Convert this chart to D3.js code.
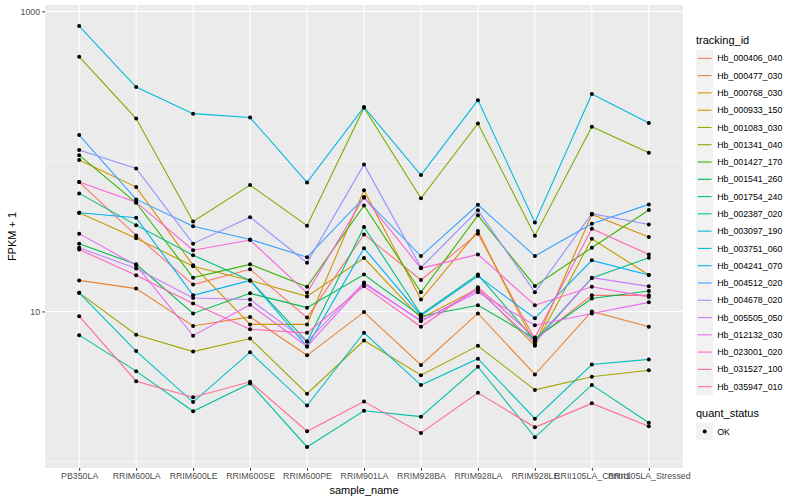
<!DOCTYPE html>
<html>
<head>
<meta charset="utf-8">
<script src="https://cdn.jsdelivr.net/npm/d3@7"></script>
<style>
  body { margin: 0; background: #fff; }
  text { font-family: "Liberation Sans", Arial, sans-serif; }
</style>
</head>
<body>
<script>
// sample names along x
const samples = ['PB350LA', 'RRIM600LA', 'RRIM600LE', 'RRIM600SE', 'RRIM600PE', 'RRIM901LA',
  'RRIM928BA', 'RRIM928LA', 'RRIM928LE', 'RRII105LA_Control', 'RRII105LA_Stressed'];

const trackingIds = ['Hb_000406_040', 'Hb_000477_030', 'Hb_000768_030', 'Hb_000933_150', 'Hb_001083_030',
  'Hb_001341_040', 'Hb_001427_170', 'Hb_001541_260', 'Hb_001754_240', 'Hb_002387_020',
  'Hb_003097_190', 'Hb_003751_060', 'Hb_004241_070', 'Hb_004512_020', 'Hb_004678_020',
  'Hb_005505_050', 'Hb_012132_030', 'Hb_023001_020', 'Hb_031527_100', 'Hb_035947_010'];

// FPKM + 1 per gene, one value per sample
const hb000406 = [72.8, 32.1, 15.1, 19.1, 9.1, 32.6, 16.2, 33.0, 6.5, 12.8, 12.8];
const hb000477 = [16.1, 14.2, 8.0, 9.2, 5.1, 9.9, 4.4, 9.7, 3.8, 10.0, 7.9];
const hb000768 = [102, 67.4, 20.3, 8.2, 8.2, 64.1, 12.0, 34.3, 6.0, 44.3, 31.3];
const hb000933 = [45.5, 30.7, 20.0, 16.1, 12.6, 22.7, 9.0, 14.2, 5.9, 30.5, 17.5];
const hb001083 = [13.3, 7.0, 5.4, 6.6, 2.83, 6.4, 3.76, 5.9, 3.0, 3.67, 4.06];
const hb001341 = [499, 193, 39.8, 69.5, 37.3, 228, 56.7, 179, 32.0, 170, 114];
const hb001427 = [110, 53.0, 16.8, 20.6, 14.6, 50.9, 13.4, 43.7, 14.8, 26.6, 47.4];
const hb001541 = [28.3, 20.6, 9.7, 13.2, 10.6, 17.6, 9.3, 11.0, 6.6, 12.2, 13.7];
const hb001754 = [61.2, 37.6, 23.7, 16.1, 6.3, 36.5, 9.55, 17.6, 6.4, 16.7, 22.8];
const hb002387 = [6.95, 4.0, 2.16, 3.31, 1.25, 2.18, 1.99, 4.28, 1.45, 3.24, 1.81];
const hb003097 = [13.3, 5.44, 2.49, 5.35, 2.36, 7.21, 3.23, 4.84, 1.93, 4.43, 4.79];
const hb003751 = [798, 313, 208, 196, 72.4, 230, 81.0, 256, 39.2, 281, 180];
const hb004241 = [45.5, 42.1, 12.8, 16.1, 5.84, 26.4, 9.4, 17.2, 9.0, 21.9, 17.5];
const hb004512 = [149.7, 55.8, 37.0, 30.2, 23.0, 57.3, 23.4, 51.4, 23.4, 38.4, 51.7];
const hb004678 = [119, 89.8, 28.3, 42.5, 21.1, 95.5, 19.6, 47.2, 13.4, 44.8, 38.0];
const hb005505 = [26.6, 19.3, 12.3, 12.0, 6.3, 15.6, 8.6, 13.9, 6.2, 16.8, 14.7];
const hb012132 = [33.0, 20.3, 6.9, 11.1, 5.84, 15.3, 8.7, 13.4, 8.1, 9.7, 11.5];
const hb023001 = [72.8, 53.5, 25.6, 29.9, 13.3, 57.8, 19.4, 24.0, 11.0, 14.6, 12.5];
const hb031527 = [25.9, 17.4, 11.3, 7.6, 7.2, 14.7, 7.9, 14.5, 6.7, 35.6, 24.0];
const hb035947 = [9.3, 3.43, 2.68, 3.40, 1.59, 2.51, 1.55, 2.87, 1.69, 2.44, 1.72];

const seriesValues = [hb000406, hb000477, hb000768, hb000933, hb001083, hb001341, hb001427,
  hb001541, hb001754, hb002387, hb003097, hb003751, hb004241, hb004512, hb004678, hb005505,
  hb012132, hb023001, hb031527, hb035947];

const yTicks = [10, 1000];
const yMinor = [1, 100];

// ggplot default hue palette for 20 levels
const palette = ['#F8766D', '#EA8331', '#D89000', '#C09B00', '#A3A500', '#7CAE00', '#39B600',
  '#00BB4E', '#00BF7D', '#00C1A3', '#00BFC4', '#00BAE0', '#00B0F6', '#35A2FF', '#9590FF',
  '#C77CFF', '#E76BF3', '#FA62DB', '#FF62BC', '#FF6C91'];

const panel = { left: 45, right: 683, top: 5, bottom: 468 };

const svg = d3.select('body').append('svg')
  .attr('width', 800)
  .attr('height', 500);

const series = trackingIds.map((id, i) => ({
  id,
  color: palette[i],
  points: samples.map((s, j) => ({ sample: s, value: seriesValues[i][j] })),
}));

const allValues = seriesValues.flat();
const lo = Math.log10(d3.min(allValues));
const hi = Math.log10(d3.max(allValues));
const pad = (hi - lo) * 0.05;

const xScale = d3.scalePoint()
  .domain(samples)
  .range([panel.left, panel.right])
  .padding(0.6);

const yScale = d3.scaleLog()
  .domain([10 ** (lo - pad), 10 ** (hi + pad)])
  .range([panel.bottom, panel.top]);

// panel background
svg.append('rect')
  .attr('x', panel.left)
  .attr('y', panel.top)
  .attr('width', panel.right - panel.left)
  .attr('height', panel.bottom - panel.top)
  .attr('fill', '#EBEBEB');

// grid lines
const grid = svg.append('g').attr('stroke', '#fff').attr('fill', 'none');
yMinor.forEach((v) => {
  grid.append('line')
    .attr('x1', panel.left).attr('x2', panel.right)
    .attr('y1', yScale(v)).attr('y2', yScale(v))
    .attr('stroke-width', 0.55);
});
yTicks.forEach((v) => {
  grid.append('line')
    .attr('x1', panel.left).attr('x2', panel.right)
    .attr('y1', yScale(v)).attr('y2', yScale(v))
    .attr('stroke-width', 1.1);
});
samples.forEach((s) => {
  grid.append('line')
    .attr('x1', xScale(s)).attr('x2', xScale(s))
    .attr('y1', panel.top).attr('y2', panel.bottom)
    .attr('stroke-width', 1.1);
});

// lines
const line = d3.line()
  .x(d => xScale(d.sample))
  .y(d => yScale(d.value));

svg.append('g')
  .selectAll('path')
  .data(series)
  .enter()
  .append('path')
  .attr('d', d => line(d.points))
  .attr('fill', 'none')
  .attr('stroke', d => d.color)
  .attr('stroke-width', 1.1);

// points
svg.append('g')
  .selectAll('circle')
  .data(series.flatMap(d => d.points))
  .enter()
  .append('circle')
  .attr('cx', d => xScale(d.sample))
  .attr('cy', d => yScale(d.value))
  .attr('r', 2)
  .attr('fill', '#000');

// axes
const yAxis = d3.axisLeft(yScale)
  .tickValues(yTicks)
  .tickFormat(d3.format('d'))
  .tickSize(2.75)
  .tickPadding(2.2);
const yG = svg.append('g')
  .attr('transform', `translate(${panel.left},0)`)
  .call(yAxis);
yG.select('.domain').remove();
yG.selectAll('line').attr('stroke', '#333333');
yG.selectAll('text')
  .attr('fill', '#4D4D4D')
  .style('font-size', '8.8px')
  .style('font-family', '"Liberation Sans", Arial, sans-serif');

const xAxis = d3.axisBottom(xScale)
  .tickSize(2.75)
  .tickPadding(2.2);
const xG = svg.append('g')
  .attr('transform', `translate(0,${panel.bottom})`)
  .call(xAxis);
xG.select('.domain').remove();
xG.selectAll('line').attr('stroke', '#333333');
xG.selectAll('text')
  .attr('fill', '#4D4D4D')
  .style('font-size', '8.8px')
  .style('font-family', '"Liberation Sans", Arial, sans-serif');

// axis titles
svg.append('text')
  .text('sample_name')
  .attr('x', (panel.left + panel.right) / 2)
  .attr('y', 494)
  .attr('text-anchor', 'middle')
  .style('font-size', '11px')
  .attr('fill', '#000');

svg.append('text')
  .text('FPKM + 1')
  .attr('transform', `translate(16, ${(panel.top + panel.bottom) / 2}) rotate(-90)`)
  .attr('text-anchor', 'middle')
  .style('font-size', '11px')
  .attr('fill', '#000');

// legend
const legend = svg.append('g').attr('transform', 'translate(696, 0)');
legend.append('text')
  .text('tracking_id')
  .attr('x', 0)
  .attr('y', 44)
  .style('font-size', '11px');

const keySize = 17.28;
const keyTop = 49.7;
trackingIds.forEach((id, i) => {
  const y = keyTop + i * keySize;
  legend.append('rect')
    .attr('x', 0).attr('y', y)
    .attr('width', keySize).attr('height', keySize)
    .attr('fill', '#F2F2F2');
  legend.append('line')
    .attr('x1', 1.7).attr('x2', keySize - 1.7)
    .attr('y1', y + keySize / 2).attr('y2', y + keySize / 2)
    .attr('stroke', palette[i])
    .attr('stroke-width', 1.1);
  legend.append('text')
    .text(id)
    .attr('x', keySize + 4)
    .attr('y', y + keySize / 2 + 3.1)
    .style('font-size', '8.8px')
    .attr('fill', '#000');
});

const qTop = keyTop + trackingIds.length * keySize + 20;
legend.append('text')
  .text('quant_status')
  .attr('x', 0)
  .attr('y', qTop + 2)
  .style('font-size', '11px');
legend.append('rect')
  .attr('x', 0).attr('y', qTop + 7.5)
  .attr('width', keySize).attr('height', keySize)
  .attr('fill', '#F2F2F2');
legend.append('circle')
  .attr('cx', keySize / 2).attr('cy', qTop + 7.5 + keySize / 2)
  .attr('r', 2)
  .attr('fill', '#000');
legend.append('text')
  .text('OK')
  .attr('x', keySize + 4)
  .attr('y', qTop + 7.5 + keySize / 2 + 3.1)
  .style('font-size', '8.8px');
</script>
</body>
</html>
